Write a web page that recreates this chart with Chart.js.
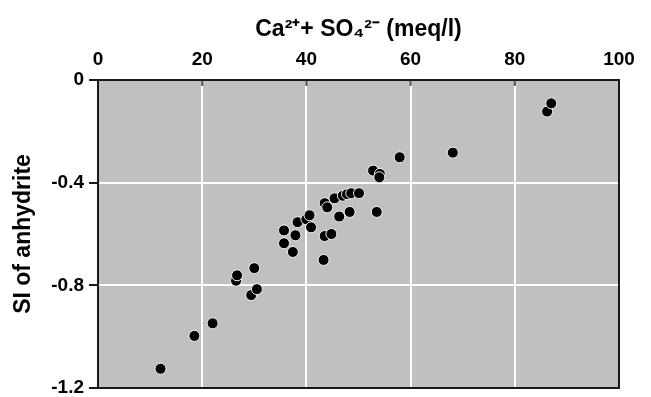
<!DOCTYPE html>
<html>
<head>
<style>
  body { margin: 0; background: #fff; }
  #wrap { width: 651px; height: 397px; }
</style>
</head>
<body>
  <div id="wrap">
    <canvas id="myChart" width="651" height="397"></canvas>
  </div>

<script src="https://cdn.jsdelivr.net/npm/chart.js@4.4.0/dist/chart.umd.min.js"></script>

<script>
  // Ca2+ + SO4 2- (meq/l) vs saturation index of anhydrite
  const caSo4 = [12, 18.5, 22, 26.5, 26.7, 29.4, 30.5, 30, 35.7, 35.7, 37.4, 37.9, 38.3, 40.0, 40.6, 40.9,
    43.3, 43.5, 44.8, 43.5, 44.0, 45.4, 46.3, 47.0, 47.8, 48.6, 48.3, 50.1, 52.8, 54.1, 54.0, 53.5,
    57.9, 68.1, 86.2, 87.0]
  const siAnhydrite = [-1.125, -0.997, -0.948, -0.782, -0.761, -0.838, -0.815, -0.733, -0.586, -0.636, -0.670, -0.605, -0.554, -0.543, -0.527, -0.574,
    -0.701, -0.608, -0.600, -0.480, -0.496, -0.461, -0.532, -0.451, -0.445, -0.441, -0.514, -0.441, -0.353, -0.366, -0.379, -0.514,
    -0.301, -0.283, -0.123, -0.091]
  const xTicks = [0, 20, 40, 60, 80, 100]
  const yTicks = [0, -0.4, -0.8, -1.2]

  const points = caSo4.map((x, i) => ({ x: x, y: siAnhydrite[i] }))

  // grey plot area, black frame and short inward ticks on the top axis
  const plotBox = {
    id: 'plotBox',
    beforeDraw(chart) {
      const { ctx, chartArea: a } = chart
      ctx.save()
      ctx.fillStyle = '#c0c0c0'
      ctx.fillRect(a.left, a.top, a.right - a.left, a.bottom - a.top)
      ctx.restore()
    },
    afterDraw(chart) {
      const { ctx, chartArea: a } = chart
      const xs = chart.scales.x
      ctx.save()
      ctx.strokeStyle = '#555'
      ctx.lineWidth = 2
      xs.ticks.forEach(t => {
        const px = xs.getPixelForValue(t.value)
        ctx.beginPath()
        ctx.moveTo(px, a.top)
        ctx.lineTo(px, a.top + 6)
        ctx.stroke()
      })
      ctx.strokeStyle = '#1a1a1a'
      ctx.lineWidth = 2
      ctx.strokeRect(a.left, a.top, a.right - a.left, a.bottom - a.top)
      ctx.restore()
    }
  }

  const family = 'Liberation Sans, Arial, sans-serif'
  const tickFont = { family: family, size: 19, weight: 'bold' }
  const titleFont = { family: family, size: 23, weight: 'bold' }

  new Chart(document.getElementById('myChart'), {
    type: 'scatter',
    data: {
      datasets: [{
        data: points,
        backgroundColor: '#000',
        borderColor: '#f2f2f2',
        borderWidth: 1,
        pointRadius: 5.5
      }]
    },
    options: {
      responsive: false,
      animation: false,
      layout: { padding: { left: 0, right: 32, top: 0, bottom: 9 } },
      plugins: { legend: { display: false }, tooltip: { enabled: false } },
      scales: {
        x: {
          type: 'linear',
          position: 'top',
          min: 0, max: 100,
          afterBuildTicks: s => { s.ticks = xTicks.map(v => ({ value: v })) },
          afterFit: s => { s.height = 80; s.paddingLeft = 0; s.paddingRight = 0 },
          ticks: { font: tickFont, color: '#000', padding: 9 },
          grid: { color: '#ffffff', lineWidth: 2, drawTicks: false },
          border: { color: '#1a1a1a', width: 2 },
          title: {
            display: true,
            text: 'Ca²⁺+ SO₄²⁻ (meq/l)',
            font: titleFont,
            color: '#000',
            padding: { top: 16, bottom: 0 }
          }
        },
        y: {
          type: 'linear',
          min: -1.2, max: 0,
          afterBuildTicks: s => { s.ticks = yTicks.map(v => ({ value: v })) },
          afterFit: s => { s.width = 98; s.paddingTop = 0; s.paddingBottom = 0 },
          ticks: { font: tickFont, color: '#000', padding: 5, callback: v => String(v) },
          grid: { color: '#ffffff', lineWidth: 2, tickColor: '#1a1a1a', tickLength: 9 },
          border: { color: '#1a1a1a', width: 2 },
          title: {
            display: true,
            text: 'SI of anhydrite',
            font: titleFont,
            color: '#000',
            padding: { top: 10, bottom: 0 }
          }
        }
      }
    },
    plugins: [plotBox]
  })
</script>
</body>
</html>
